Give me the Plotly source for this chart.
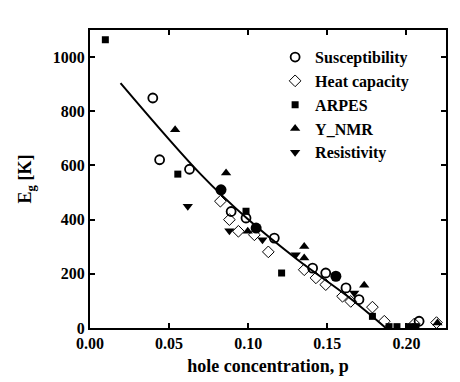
import plotly.graph_objects as go

# ----------------------------
# data
# ----------------------------
sus_p = [0.0397, 0.044, 0.0629, 0.0892, 0.0986, 0.1165, 0.1407, 0.149, 0.1618, 0.170, 0.208]
sus_e = [849, 621, 586, 430, 406, 332, 221, 203, 148, 105, 25]

heat_p = [0.0824, 0.0881, 0.0938, 0.1039, 0.1127, 0.1354, 0.1428, 0.149, 0.1596, 0.1648, 0.1785, 0.186, 0.205, 0.219]
heat_e = [468, 400, 357, 344, 281, 215, 185, 160, 117, 98, 77, 25, 15, 20]

arpes_p = [0.0097, 0.0555, 0.0986, 0.1211, 0.1785, 0.189, 0.194, 0.2025, 0.206]
arpes_e = [1064, 568, 431, 203, 43, 5, 5, 5, 5]

nmr_p = [0.0538, 0.086, 0.0997, 0.1354, 0.1354, 0.1733, 0.2196]
nmr_e = [732, 572, 357, 301, 258, 158, 18]

res_p = [0.0618, 0.0881, 0.109, 0.130, 0.167]
res_e = [449, 359, 326, 270, 129]

# filled circles without legend entry
dot_p = [0.0828, 0.105, 0.1554]
dot_e = [510, 369, 191]

# guide line
fit_p = [0.0193, 0.0702, 0.0997, 0.1312, 0.1628, 0.187]
fit_e = [904, 566, 402, 252, 117, 0]

FONT = "Liberation Serif"

fig = go.Figure()

fig.add_trace(go.Scatter(x=fit_p, y=fit_e, mode="lines", line=dict(color="black", width=2, shape="spline"),
                         showlegend=False, hoverinfo="skip"))
fig.add_trace(go.Scatter(x=dot_p, y=dot_e, mode="markers", showlegend=False,
                         marker=dict(symbol="circle", size=11, color="black")))

series = [
    ("Susceptibility", sus_p, sus_e, dict(symbol="circle-open", size=9, color="black", line=dict(width=1.8))),
    ("Heat capacity", heat_p, heat_e, dict(symbol="diamond-open", size=9, color="black", line=dict(width=1))),
    ("ARPES", arpes_p, arpes_e, dict(symbol="square", size=7, color="black")),
    ("Y_NMR", nmr_p, nmr_e, dict(symbol="triangle-up", size=9, color="black")),
    ("Resistivity", res_p, res_e, dict(symbol="triangle-down", size=9, color="black")),
]
for name, xs, ys, mk in series:
    fig.add_trace(go.Scatter(x=xs, y=ys, mode="markers", name=name, marker=mk, legendgroup=name))

axis_common = dict(
    showline=True, linecolor="black", linewidth=2, mirror="ticks",
    ticks="inside", ticklen=5, tickwidth=1.5, tickcolor="black",
    showgrid=False, zeroline=False,
    tickfont=dict(family=FONT, size=16, color="black", weight="bold"),
)

fig.update_xaxes(range=[0, 0.225], tick0=0, dtick=0.05, tickformat=".2f",
                 title=dict(text="hole concentration, p", standoff=8,
                            font=dict(family=FONT, size=18, color="black", weight="bold")),
                 **axis_common)
fig.update_yaxes(range=[0, 1100], tick0=0, dtick=200,
                 title=dict(text="E<sub>g</sub> [K]", standoff=16,
                            font=dict(family=FONT, size=18, color="black", weight="bold")),
                 **axis_common)

fig.update_layout(
    width=460, height=382,
    margin=dict(l=82, r=22, t=22, b=62),
    plot_bgcolor="white", paper_bgcolor="white",
    font=dict(family=FONT, color="black"),
    legend=dict(x=0.52, y=0.966, xanchor="left", yanchor="top",
                font=dict(family=FONT, size=16, color="black", weight="bold"),
                bgcolor="rgba(0,0,0,0)", tracegroupgap=0),
)

fig.write_html("out.html")
